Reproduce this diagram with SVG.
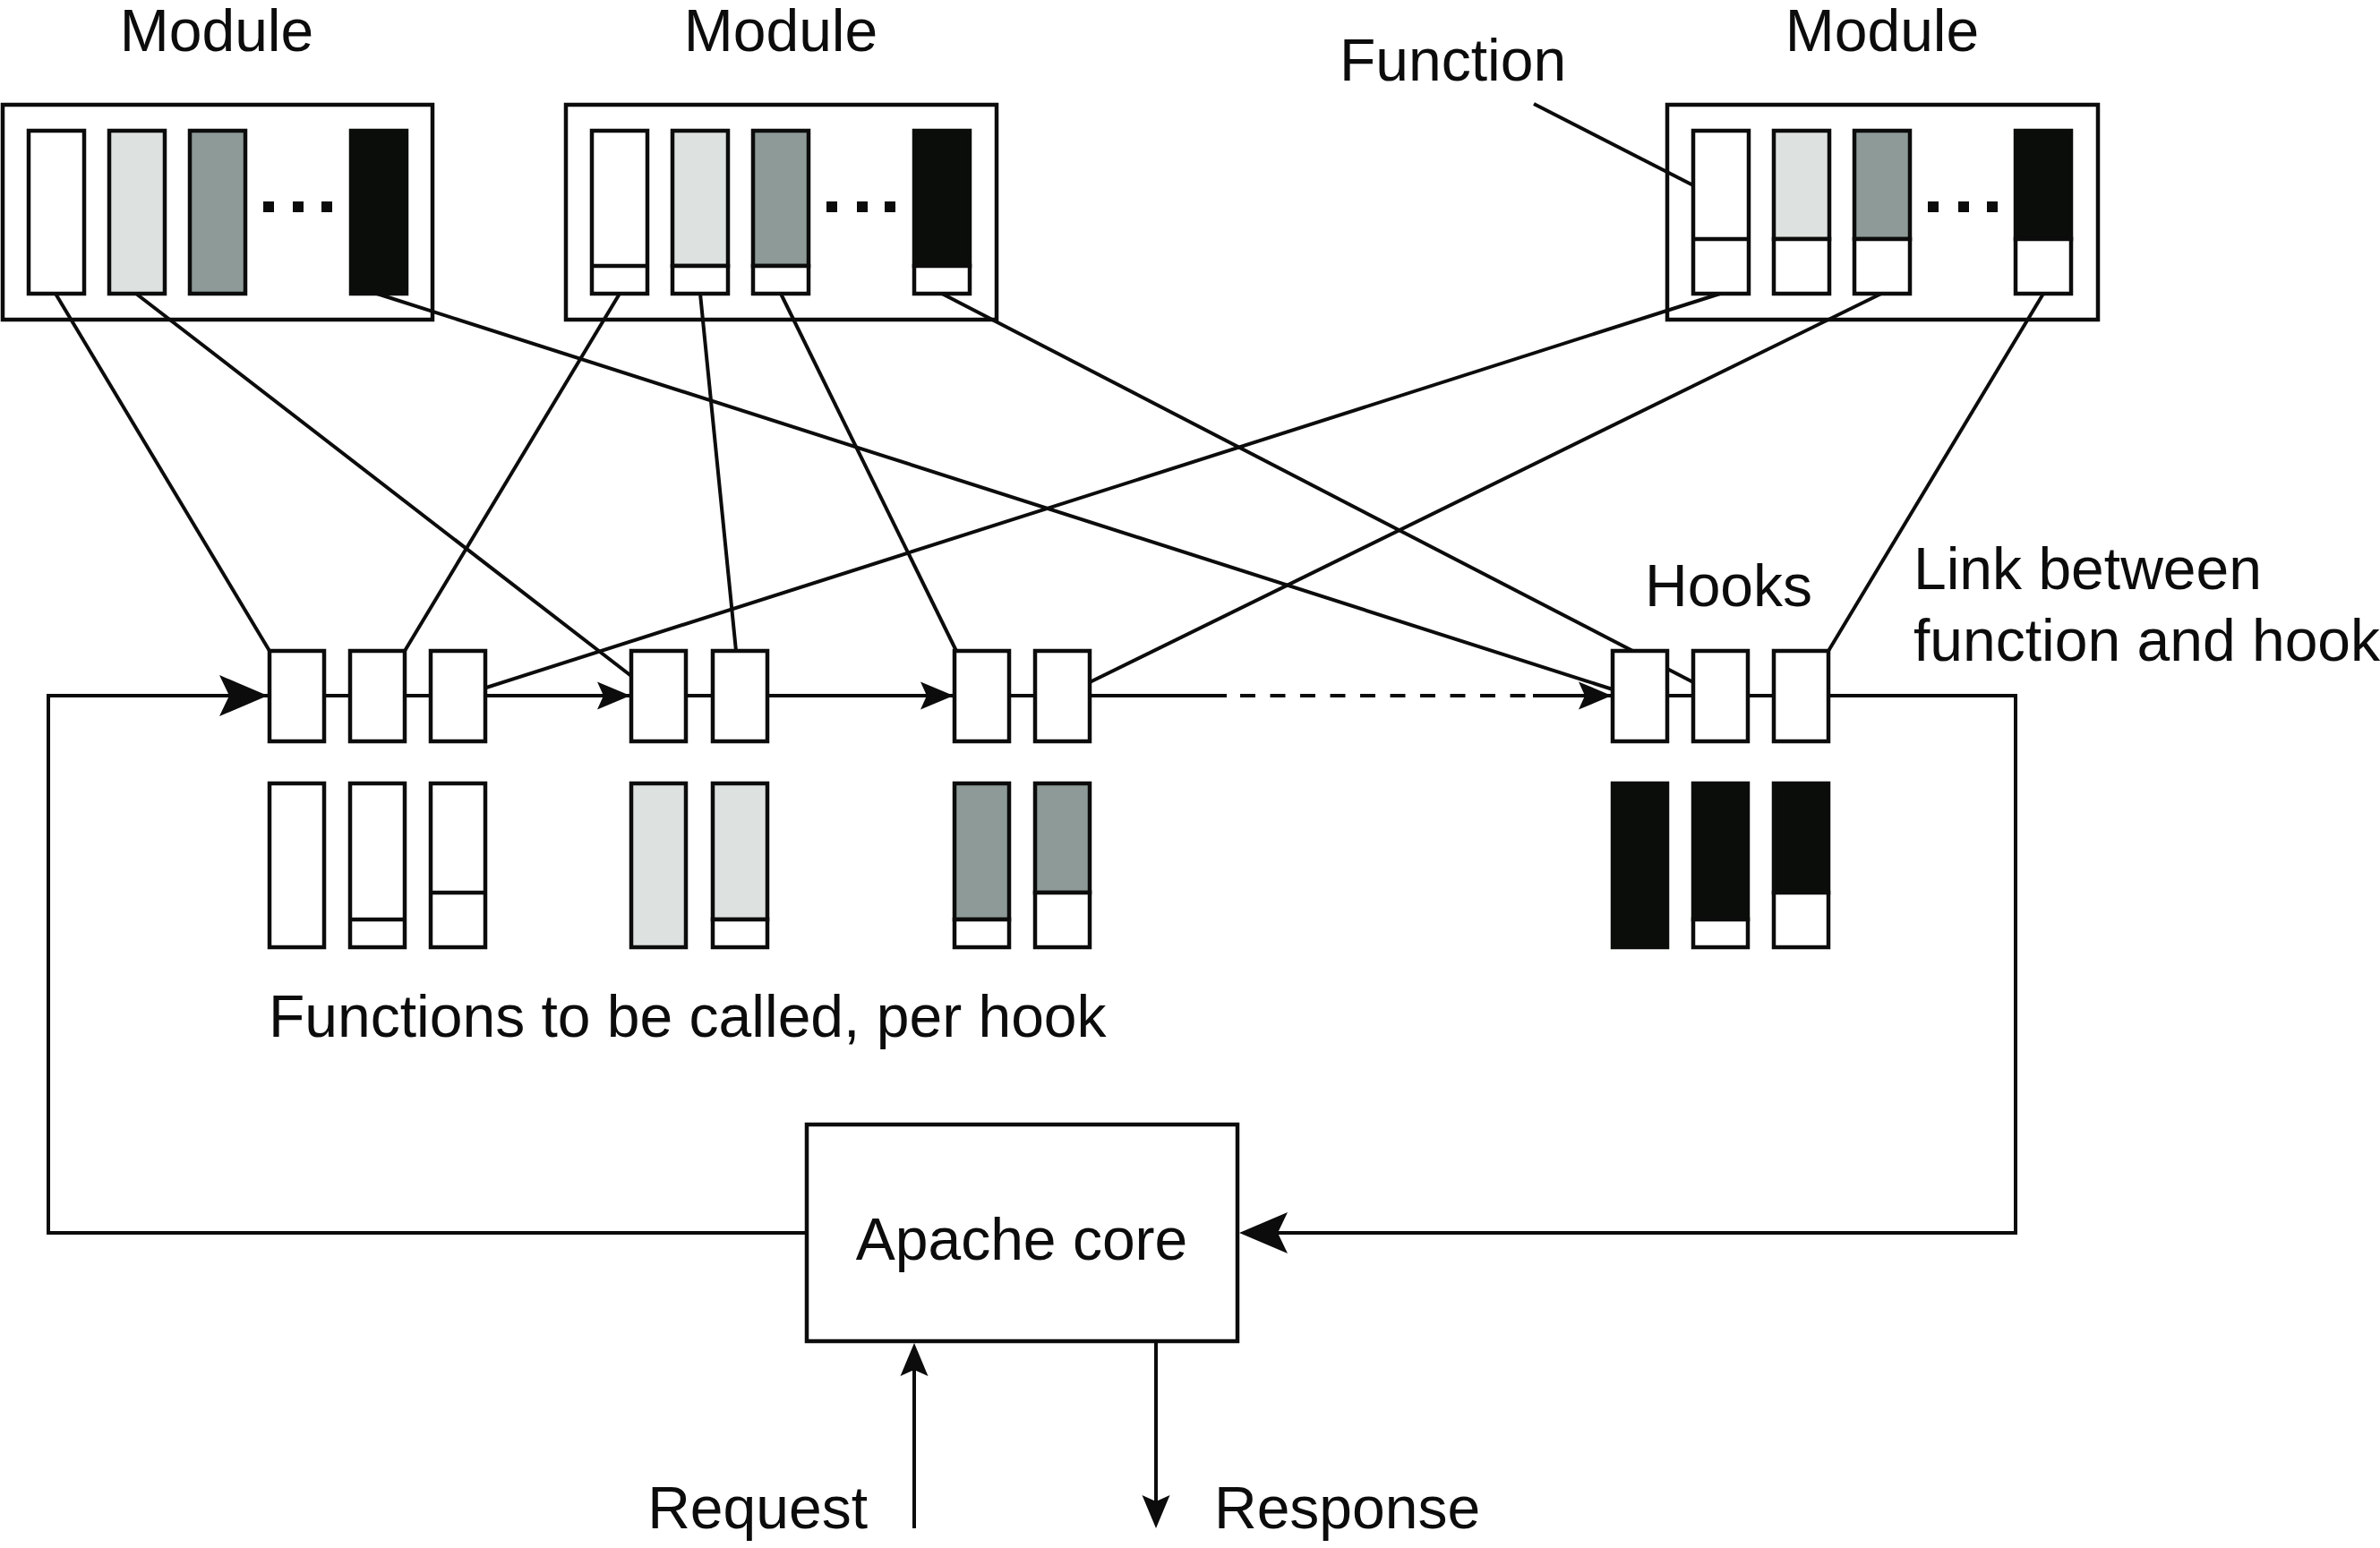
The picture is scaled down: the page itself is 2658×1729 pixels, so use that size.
<svg xmlns="http://www.w3.org/2000/svg" xmlns:xlink="http://www.w3.org/1999/xlink" width="2658" height="1729" viewBox="0 0 2658 1729">
<style>
.t{font-family:"Liberation Sans",Arial,sans-serif;font-size:66px;fill:#0b0c0b}
.box{fill:#fff;stroke:#0b0c0b;stroke-width:4.5}
.w{fill:#fff;stroke:#0b0c0b;stroke-width:4.5}
.lg{fill:#dde1e0;stroke:#0b0c0b;stroke-width:4.5}
.mg{fill:#8d9a98;stroke:#0b0c0b;stroke-width:4.5}
.bk{fill:#0b0d0b;stroke:#0b0d0b;stroke-width:4.5}
.ln{fill:none;stroke:#0b0c0b;stroke-width:4}
.dot{fill:#0b0c0b}
.ah{fill:#0b0c0b}
</style>
<defs>
<path id="big" d="M0,0 L-54,-23 L-43,0 L-54,23 Z"/>
<path id="sm" d="M0,0 L-37,-15.5 L-30,0 L-37,15.5 Z"/>
</defs>
<rect width="2658" height="1729" fill="#fff"/>

<g id="module1">
<text class="t" x="242" y="57" text-anchor="middle">Module</text>
<rect class="box" x="3" y="117" width="480" height="240"/>
<rect class="w" x="32" y="146" width="62" height="182"/>
<rect class="lg" x="122" y="146" width="62" height="182"/>
<rect class="mg" x="212" y="146" width="62" height="182"/>
<rect class="bk" x="392" y="146" width="62" height="182"/>
<rect class="dot" x="294" y="225" width="12" height="12"/>
<rect class="dot" x="327" y="225" width="12" height="12"/>
<rect class="dot" x="359" y="225" width="12" height="12"/>
</g>

<g id="module2">
<text class="t" x="872" y="57" text-anchor="middle">Module</text>
<rect class="box" x="632" y="117" width="481" height="240"/>
<rect class="w" x="661" y="146" width="62" height="182"/>
<rect class="lg" x="751" y="146" width="62" height="151"/>
<rect class="w" x="751" y="297" width="62" height="31"/>
<rect class="mg" x="841" y="146" width="62" height="151"/>
<rect class="w" x="841" y="297" width="62" height="31"/>
<rect class="bk" x="1021" y="146" width="62" height="151"/>
<rect class="w" x="1021" y="297" width="62" height="31"/>
<line class="ln" x1="661" y1="297" x2="723" y2="297" style="stroke-width:4.5"/>
<rect class="dot" x="923" y="225" width="12" height="12"/>
<rect class="dot" x="957" y="225" width="12" height="12"/>
<rect class="dot" x="988" y="225" width="12" height="12"/>
</g>

<g id="module3">
<text class="t" x="2102" y="57" text-anchor="middle">Module</text>
<rect class="box" x="1862" y="117" width="481" height="240"/>
<rect class="w" x="1891" y="146" width="62" height="182"/>
<rect class="lg" x="1981" y="146" width="62" height="121"/>
<rect class="w" x="1981" y="267" width="62" height="61"/>
<rect class="mg" x="2071" y="146" width="62" height="121"/>
<rect class="w" x="2071" y="267" width="62" height="61"/>
<rect class="bk" x="2251" y="146" width="62" height="121"/>
<rect class="w" x="2251" y="267" width="62" height="61"/>
<line class="ln" x1="1891" y1="267" x2="1953" y2="267" style="stroke-width:4.5"/>
<rect class="dot" x="2153" y="225" width="12" height="12"/>
<rect class="dot" x="2187" y="225" width="12" height="12"/>
<rect class="dot" x="2219" y="225" width="12" height="12"/>
</g>

<g id="function-label">
<text class="t" x="1496" y="90">Function</text>
</g>

<g id="connectors">
<line class="ln" x1="1713" y1="116" x2="1891" y2="207"/>
<line class="ln" x1="62" y1="328" x2="301" y2="727"/>
<line class="ln" x1="152" y1="328" x2="705" y2="755"/>
<line class="ln" x1="421" y1="328" x2="1801" y2="770"/>
<line class="ln" x1="692" y1="328" x2="452" y2="727"/>
<line class="ln" x1="782" y1="328" x2="822" y2="727"/>
<line class="ln" x1="872" y1="328" x2="1068" y2="727"/>
<line class="ln" x1="1052" y1="328" x2="1891" y2="762"/>
<line class="ln" x1="1921" y1="328" x2="543" y2="768"/>
<line class="ln" x1="2101" y1="328" x2="1217" y2="762"/>
<line class="ln" x1="2282" y1="328" x2="2042" y2="727"/>
<path class="ln" d="M901,1377 H54 V777 H1370"/>
<line class="ln" x1="1385" y1="777" x2="1704" y2="777" stroke-dasharray="17 16.5"/>
<path class="ln" d="M1712,777 H2251 V1377 H1400"/>
<line class="ln" x1="1021" y1="1707" x2="1021" y2="1520"/>
<line class="ln" x1="1291" y1="1498" x2="1291" y2="1690"/>
<use href="#big" class="ah" transform="translate(299,777)"/>
<use href="#sm" class="ah" transform="translate(704,777)"/>
<use href="#sm" class="ah" transform="translate(1065,777)"/>
<use href="#sm" class="ah" transform="translate(1800,777)"/>
<use href="#big" class="ah" transform="translate(1384,1377) rotate(180)"/>
<use href="#sm" class="ah" transform="translate(1021,1500) rotate(-90)"/>
<use href="#sm" class="ah" transform="translate(1291,1707) rotate(90)"/>
</g>

<g id="hooks">
<rect class="w" x="301" y="727" width="61" height="101"/>
<rect class="w" x="391" y="727" width="61" height="101"/>
<rect class="w" x="481" y="727" width="61" height="101"/>
<rect class="w" x="705" y="727" width="61" height="101"/>
<rect class="w" x="796" y="727" width="61" height="101"/>
<rect class="w" x="1066" y="727" width="61" height="101"/>
<rect class="w" x="1156" y="727" width="61" height="101"/>
<rect class="w" x="1801" y="727" width="61" height="101"/>
<rect class="w" x="1891" y="727" width="61" height="101"/>
<rect class="w" x="1981" y="727" width="61" height="101"/>
<text class="t" x="1837" y="677">Hooks</text>
<text class="t" x="2137" y="658">Link between</text>
<text class="t" x="2137" y="738">function and hook</text>
</g>

<g id="functions-per-hook">
<rect class="w" x="301" y="875" width="61" height="183"/>
<rect class="w" x="391" y="875" width="61" height="183"/>
<line class="ln" x1="391" y1="1027" x2="452" y2="1027" style="stroke-width:4.5"/>
<rect class="w" x="481" y="875" width="61" height="183"/>
<line class="ln" x1="481" y1="997" x2="542" y2="997" style="stroke-width:4.5"/>
<rect class="lg" x="705" y="875" width="61" height="183"/>
<rect class="lg" x="796" y="875" width="61" height="152"/>
<rect class="w" x="796" y="1027" width="61" height="31"/>
<rect class="mg" x="1066" y="875" width="61" height="152"/>
<rect class="w" x="1066" y="1027" width="61" height="31"/>
<rect class="mg" x="1156" y="875" width="61" height="122"/>
<rect class="w" x="1156" y="997" width="61" height="61"/>
<rect class="bk" x="1801" y="875" width="61" height="183"/>
<rect class="bk" x="1891" y="875" width="61" height="152"/>
<rect class="w" x="1891" y="1027" width="61" height="31"/>
<rect class="bk" x="1981" y="875" width="61" height="122"/>
<rect class="w" x="1981" y="997" width="61" height="61"/>
<text class="t" x="300" y="1158">Functions to be called, per hook</text>
</g>

<g id="apache-core">
<rect class="box" x="901" y="1256" width="481" height="242"/>
<text class="t" x="1141" y="1407" text-anchor="middle">Apache core</text>
</g>

<g id="io-labels">
<text class="t" x="969" y="1707" text-anchor="end">Request</text>
<text class="t" x="1356" y="1707">Response</text>
</g>
</svg>
